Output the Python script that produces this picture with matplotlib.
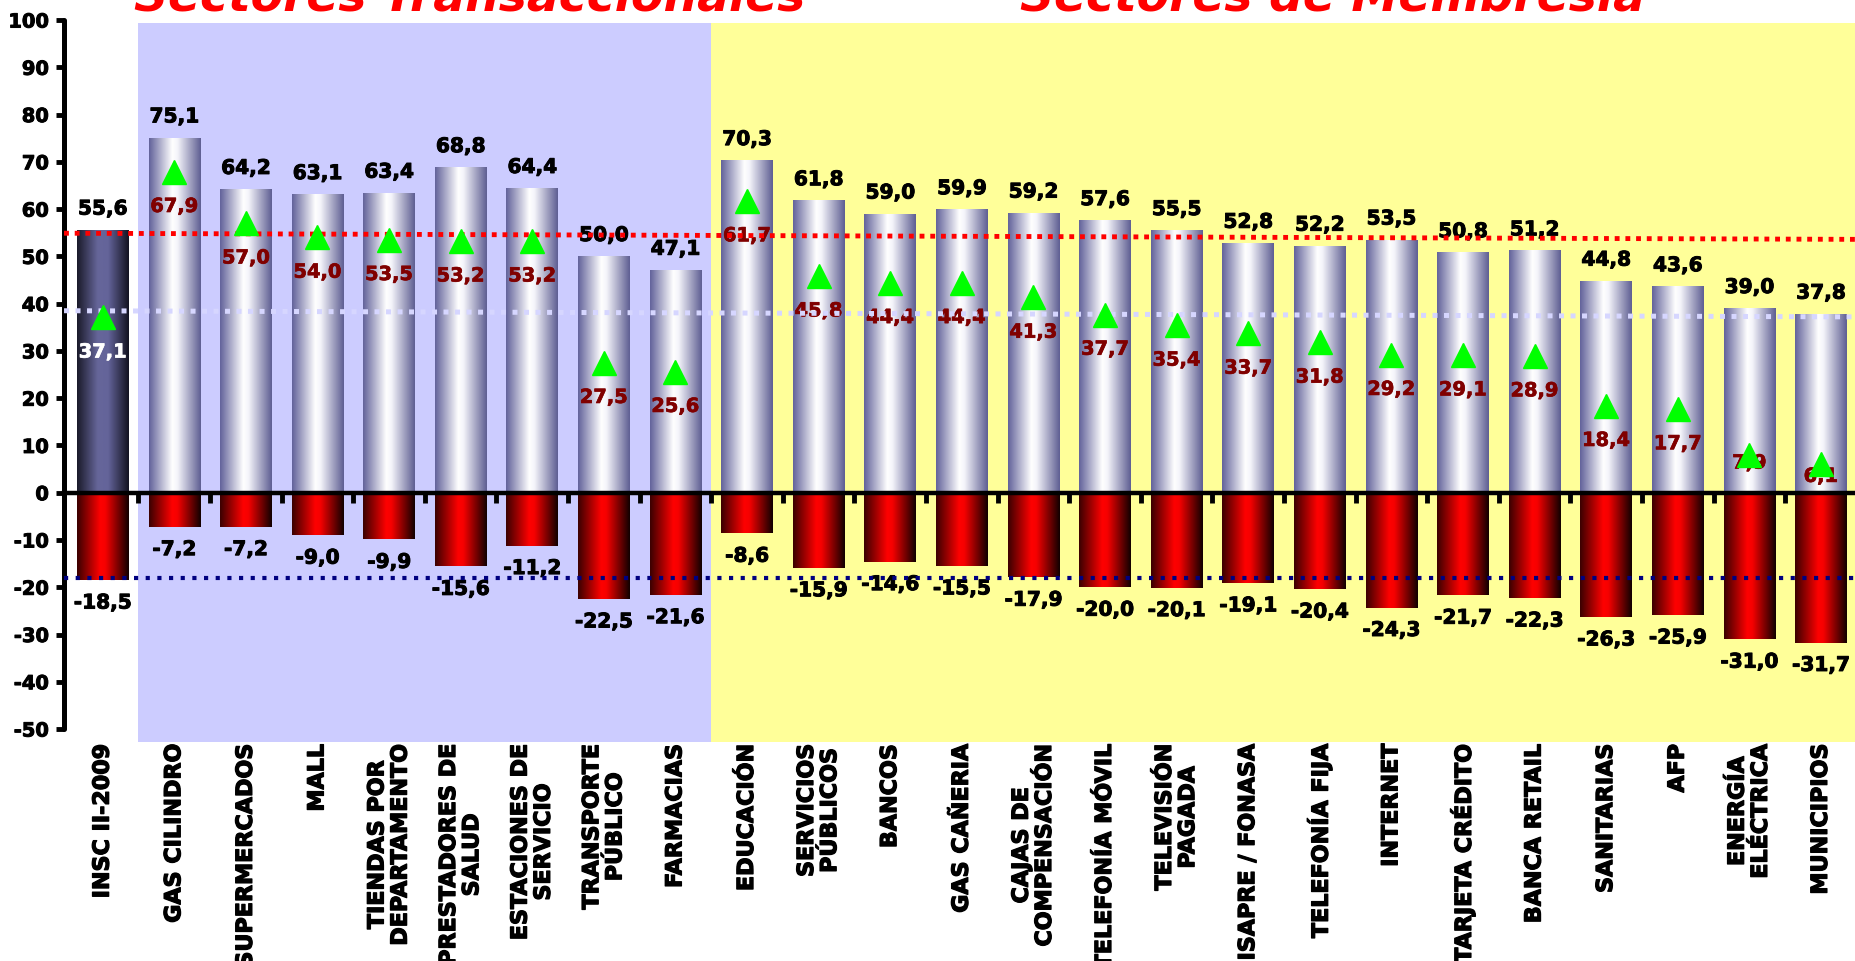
import numpy as np
import matplotlib
matplotlib.use('Agg')
import matplotlib.pyplot as plt
import matplotlib.patheffects as pe
from matplotlib.colors import LinearSegmentedColormap
from matplotlib.transforms import blended_transform_factory

plt.rcParams['axes.unicode_minus'] = False

sectors = ["INSC II-2009", "GAS CILINDRO", "SUPERMERCADOS", "MALL",
           "TIENDAS POR\nDEPARTAMENTO", "PRESTADORES DE\nSALUD",
           "ESTACIONES DE\nSERVICIO", "TRANSPORTE\nPÚBLICO", "FARMACIAS",
           "EDUCACIÓN", "SERVICIOS\nPÚBLICOS", "BANCOS", "GAS CAÑERIA",
           "CAJAS DE\nCOMPENSACIÓN", "TELEFONÍA MÓVIL", "TELEVISIÓN\nPAGADA",
           "ISAPRE / FONASA", "TELEFONÍA FIJA", "INTERNET", "TARJETA CRÉDITO",
           "BANCA RETAIL", "SANITARIAS", "AFP", "ENERGÍA\nELÉCTRICA", "MUNICIPIOS"]
satisfied = [55.6, 75.1, 64.2, 63.1, 63.4, 68.8, 64.4, 50.0, 47.1,
             70.3, 61.8, 59.0, 59.9, 59.2, 57.6, 55.5, 52.8, 52.2, 53.5,
             50.8, 51.2, 44.8, 43.6, 39.0, 37.8]
dissatisfied = [-18.5, -7.2, -7.2, -9.0, -9.9, -15.6, -11.2, -22.5, -21.6,
                -8.6, -15.9, -14.6, -15.5, -17.9, -20.0, -20.1, -19.1, -20.4,
                -24.3, -21.7, -22.3, -26.3, -25.9, -31.0, -31.7]
net = [37.1, 67.9, 57.0, 54.0, 53.5, 53.2, 53.2, 27.5, 25.6,
       61.7, 45.8, 44.4, 44.4, 41.3, 37.7, 35.4, 33.7, 31.8, 29.2,
       29.1, 28.9, 18.4, 17.7, 7.9, 6.1]
# average lines, value at left and right end
avg_sat = [54.9, 53.6]
avg_net = [38.5, 37.2]
avg_dis = [-18.0, -18.0]

n_trans = 8   # sectors 1..8 are transactional, the rest membership
XL = (-0.54, 24.49)
YL = (-52.7, 100.5)

fig = plt.figure(figsize=(18.56, 9.61), dpi=100)
ax = fig.add_axes([0.0345, 0.2281, 0.9655, 0.7535])
x = np.arange(len(sectors))

# background bands
ax.fill_between([0.5, 0.5 + n_trans], -52.7, 99.3, color='#CCCCFF', lw=0, zorder=0)
ax.fill_between([0.5 + n_trans, XL[1]], -52.7, 99.3, color='#FFFF99', lw=0, zorder=0)

cm_grey = LinearSegmentedColormap.from_list('g', [(0, '#62629A'), (0.45, '#FFFFFF'), (0.55, '#F4F4FA'), (1, '#5E5E92')])
cm_red = LinearSegmentedColormap.from_list('r', [(0, '#3A0000'), (0.45, '#FF0000'), (0.55, '#F50000'), (1, '#100000')])
cm_base = LinearSegmentedColormap.from_list('b', [(0, '#1A1A2A'), (0.4, '#66669A'), (0.6, '#64649A'), (1, '#121220')])
grad = np.linspace(0, 1, 256).reshape(1, -1)

def shade(bars, cmaps):
    for b, cm in zip(bars, cmaps):
        x0, y0, w, h = b.get_x(), b.get_y(), b.get_width(), b.get_height()
        ax.imshow(grad, extent=(x0, x0 + w, y0, y0 + h), aspect='auto',
                  cmap=cm, interpolation='bicubic', zorder=2)
        b.set_visible(False)

def heavy(c='black', w=0.7):
    return [pe.withStroke(linewidth=w, foreground=c)]

bw = 0.72
pos = ax.bar(x, satisfied, bw, zorder=2)
neg = ax.bar(x, dissatisfied, bw, zorder=2)
shade(pos, [cm_base] + [cm_grey] * (len(x) - 1))
shade(neg, [cm_red] * len(x))

lab = dict(ha='center', va='center', fontsize=14.5, fontweight='bold',
           textcoords='offset points', zorder=3, path_effects=heavy())
for i in x:
    ax.annotate(f"{satisfied[i]:.1f}".replace('.', ','), (i, satisfied[i]),
                xytext=(0, 15), **lab)
    ax.annotate(f"{dissatisfied[i]:.1f}".replace('.', ','), (i, dissatisfied[i]),
                xytext=(0, -16.5), **lab)

drop = {23: 5.5, 24: 9}
for i in x:
    c = 'white' if i == 0 else '#800000'
    ax.annotate(f"{net[i]:.1f}".replace('.', ','), (i, net[i]),
                xytext=(0, -drop.get(i, 25)), ha='center', va='center',
                textcoords='offset points', fontsize=14, fontweight='bold',
                color=c, zorder=3, path_effects=heavy(c, 0.5))

# average lines
ax.plot(XL, avg_sat, color='#FF0000', lw=3.5, ls=(0, (1, 1.2)), zorder=4)
ax.plot(XL, avg_net, color='#D6D6FF', lw=3.6, ls=(0, (1, 1.3)), zorder=4)
ax.plot(XL, avg_dis, color='#000080', lw=3.0, ls=(0, (1, 1.8)), zorder=4)

ax.plot(x, net, ls='none', marker='^', ms=17.5, color='#00FF00', zorder=5)

ax.set_xlim(*XL)
ax.set_ylim(*YL)
for s in ['top', 'right']:
    ax.spines[s].set_visible(False)
ax.spines['bottom'].set_position(('data', 0))
ax.spines['bottom'].set_linewidth(3.2)
ax.spines['bottom'].set_zorder(6)
ax.spines['left'].set_bounds(-50, 100)
ax.spines['left'].set_linewidth(3.6)
ax.spines['left'].set_capstyle('round')
ax.set_yticks(range(-50, 101, 10))
ax.set_xticks(np.arange(0.5, len(x) - 0.5, 1))
ax.set_xticklabels([])
ax.tick_params(axis='y', length=6, width=3.5, pad=5, labelsize=14)
ax.tick_params(axis='x', length=7, width=3.5, direction='out')
for t in ax.get_yticklabels():
    t.set_fontweight('bold')
    t.set_path_effects(heavy())

tr = blended_transform_factory(ax.transData, ax.transAxes)
for i, name in enumerate(sectors):
    ax.text(i, -0.003, name, transform=tr, rotation=90, ha='center', va='top',
            multialignment='center', fontsize=16, fontweight='bold',
            path_effects=heavy(w=0.9))

fig.text(0.253, 0.9886, "Sectores Transaccionales", ha='center', va='baseline',
         fontsize=34, fontweight='bold', fontstyle='italic', color='#FF0000')
fig.text(0.718, 0.9886, "Sectores de Membresía", ha='center', va='baseline',
         fontsize=34, fontweight='bold', fontstyle='italic', color='#FF0000')

fig.savefig('out.png', dpi=100)
